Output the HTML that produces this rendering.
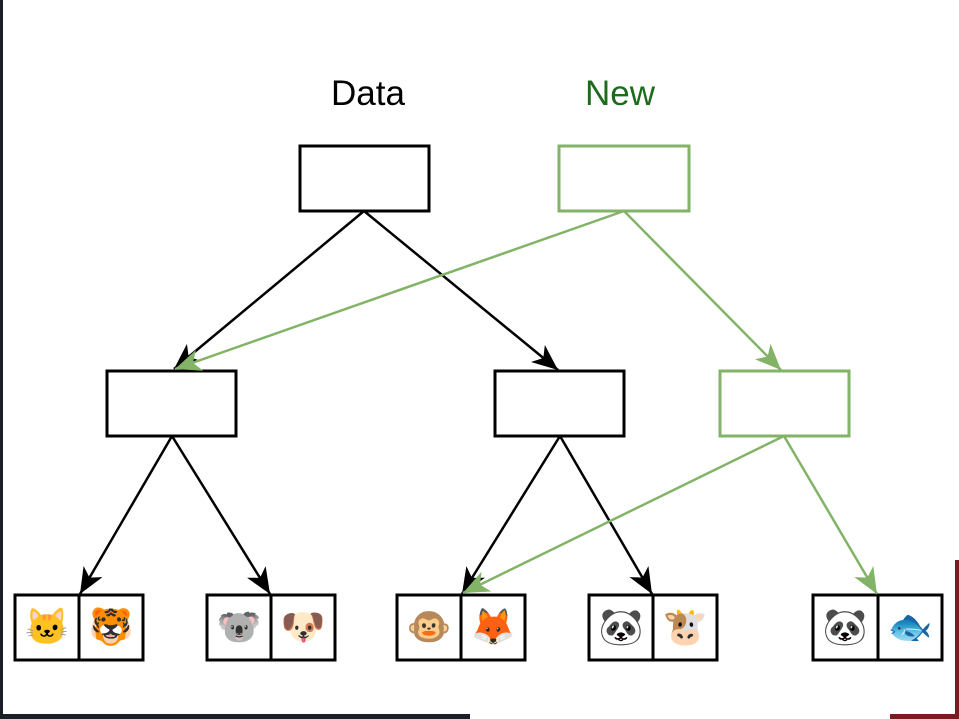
<!DOCTYPE html>
<html><head><meta charset="utf-8"><style>
html,body{margin:0;padding:0;background:#fff;}
body{width:959px;height:719px;overflow:hidden;position:relative;font-family:"Liberation Sans",sans-serif;}
.e{position:absolute;font-size:36px;line-height:40px;width:64px;text-align:center;font-family:"Noto Color Emoji","DejaVu Sans",sans-serif;}
</style></head><body>
<svg width="959" height="719" style="position:absolute;left:0;top:0">
<defs>
<marker id="ab" markerUnits="userSpaceOnUse" markerWidth="28" markerHeight="22" refX="26" refY="11" orient="auto"><path d="M0,0 L26,11 L0,22 L7,11 z" fill="#000"/></marker>
<marker id="ag" markerUnits="userSpaceOnUse" markerWidth="28" markerHeight="22" refX="26" refY="11" orient="auto"><path d="M0,0 L26,11 L0,22 L7,11 z" fill="#82b366"/></marker>
</defs>
<rect x="0" y="0" width="3" height="719" fill="#1c1f26"/>
<rect x="0" y="714" width="470" height="5" fill="#1c1f26"/>
<rect x="955" y="560" width="4" height="159" fill="#7a1a22"/>
<rect x="890" y="714" width="69" height="5" fill="#7a1a22"/>
<text x="368" y="105" font-size="35" text-anchor="middle" fill="#000">Data</text>
<text x="620" y="105" font-size="35" text-anchor="middle" fill="#1e6b1e">New</text>
<g fill="none" stroke-width="3">
<rect x="300" y="146" width="129" height="65" stroke="#000"/>
<rect x="559" y="146" width="130" height="65" stroke="#82b366"/>
<rect x="107" y="371" width="129" height="65" stroke="#000"/>
<rect x="495" y="371" width="129" height="65" stroke="#000"/>
<rect x="720" y="371" width="129" height="65" stroke="#82b366"/>
<g stroke="#000">
<rect x="15" y="595" width="128" height="65"/><line x1="79" y1="595" x2="79" y2="660"/>
<rect x="207" y="595" width="128" height="65"/><line x1="271" y1="595" x2="271" y2="660"/>
<rect x="397" y="595" width="128" height="65"/><line x1="461" y1="595" x2="461" y2="660"/>
<rect x="589" y="595" width="128" height="65"/><line x1="653" y1="595" x2="653" y2="660"/>
<rect x="813" y="595" width="129" height="65"/><line x1="878" y1="595" x2="878" y2="660"/>
</g>
<g stroke="#000" stroke-width="2.5">
<line x1="364" y1="211" x2="174" y2="369" marker-end="url(#ab)"/>
<line x1="364" y1="211" x2="558" y2="370" marker-end="url(#ab)"/>
<line x1="172" y1="436" x2="80" y2="594" marker-end="url(#ab)"/>
<line x1="172" y1="436" x2="270" y2="594" marker-end="url(#ab)"/>
<line x1="560" y1="436" x2="462" y2="594" marker-end="url(#ab)"/>
<line x1="560" y1="436" x2="652" y2="594" marker-end="url(#ab)"/>
</g>
<g stroke="#82b366" stroke-width="2.5">
<line x1="624" y1="211" x2="175" y2="369" marker-end="url(#ag)"/>
<line x1="624" y1="211" x2="781" y2="370" marker-end="url(#ag)"/>
<line x1="784" y1="436" x2="463" y2="593" marker-end="url(#ag)"/>
<line x1="784" y1="436" x2="877" y2="594" marker-end="url(#ag)"/>
</g>
</g>
</svg>
<div class="e" style="left:15px;top:607px">🐱</div>
<div class="e" style="left:79px;top:607px">🐯</div>
<div class="e" style="left:207px;top:607px">🐨</div>
<div class="e" style="left:271px;top:607px">🐶</div>
<div class="e" style="left:397px;top:607px">🐵</div>
<div class="e" style="left:461px;top:607px">🦊</div>
<div class="e" style="left:589px;top:607px">🐼</div>
<div class="e" style="left:653px;top:607px">🐮</div>
<div class="e" style="left:813px;top:607px">🐼</div>
<div class="e" style="left:878px;top:607px">🐟</div>
</body></html>
